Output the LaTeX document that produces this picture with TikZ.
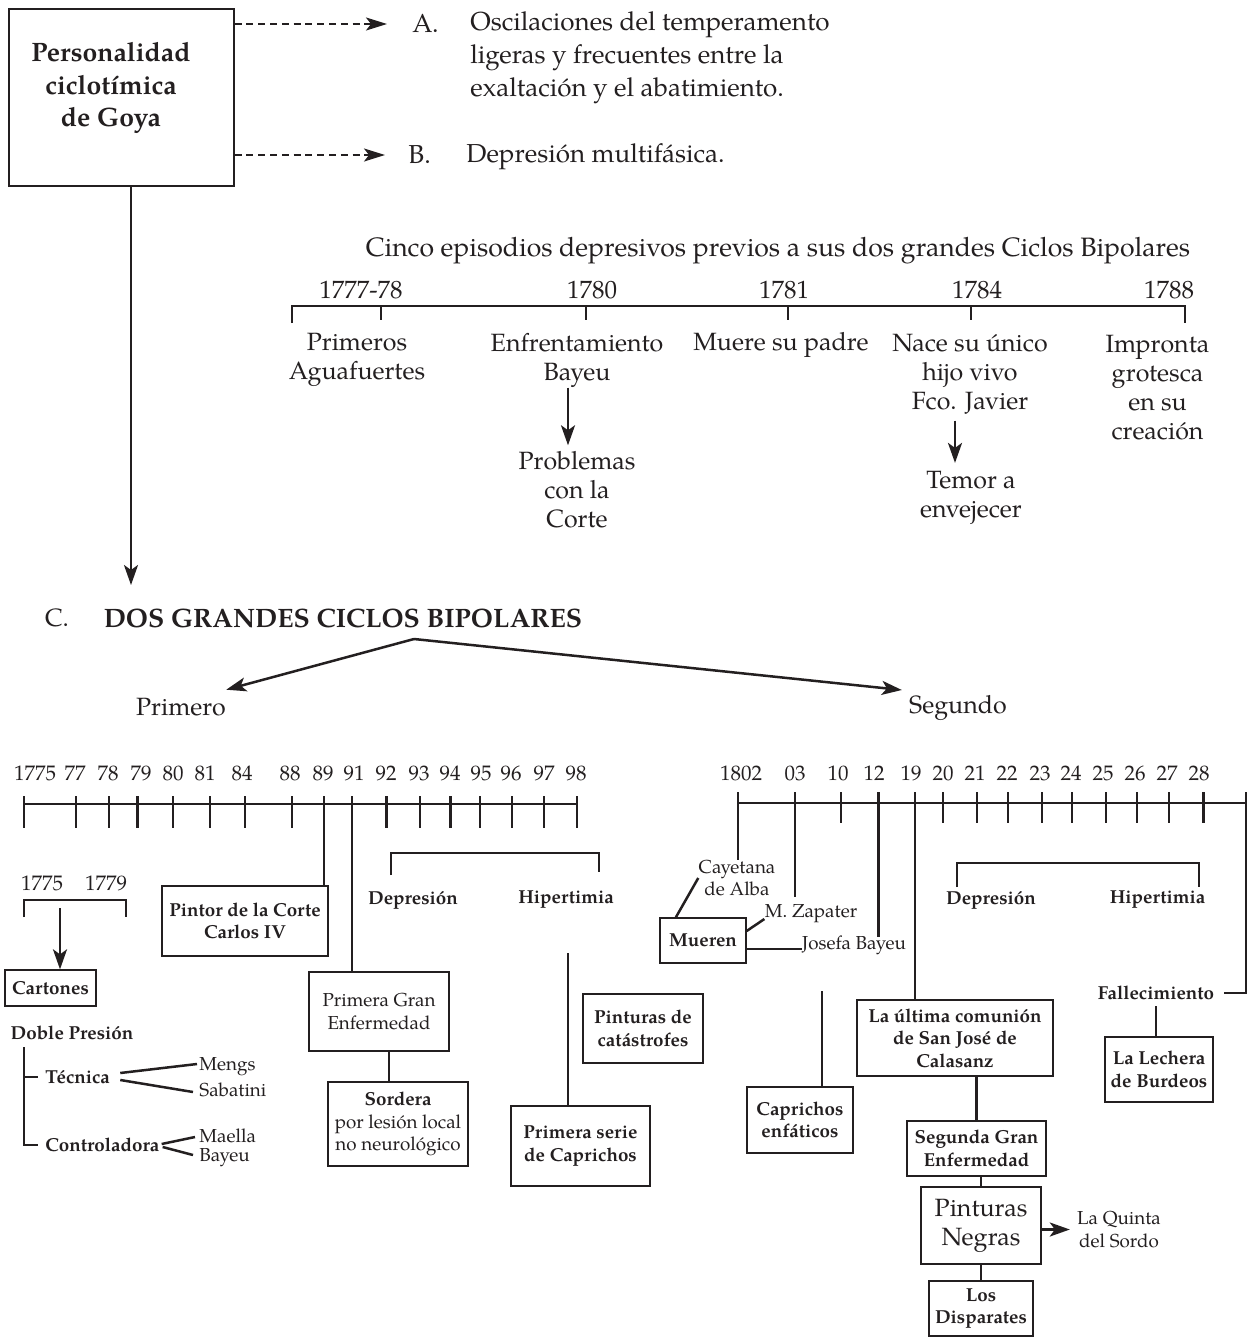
\documentclass[tikz,border=0pt]{standalone}
\usepackage{fontspec}
\setmainfont{TeX Gyre Pagella}
\usetikzlibrary{arrows.meta}
\definecolor{ink}{HTML}{231F20}
\newcommand\FBig{\fontsize{12.5}{14.5}\selectfont}
\newcommand\FSm{\fontsize{9.4}{11.25}\selectfont}
\newcommand\FYr{\fontsize{10.5}{12}\selectfont}
\newcommand\FHd{\fontsize{13.3}{16.25}\selectfont\bfseries}
\begin{document}
\begin{tikzpicture}[x=0.5pt,y=-0.5pt,
  lab/.style={text=ink, inner sep=0pt, align=center, font=\FBig},
  slab/.style={lab, font=\FSm},
  sbold/.style={lab, font=\FSm\bfseries},
  yr/.style={lab, font=\FYr},
  bx/.style={draw=ink, line width=0.65pt, inner sep=0pt, align=center, text=ink},
  sbx/.style={bx, font=\FSm\bfseries},
  tline/.style={draw=ink, line width=1.35pt},
  con/.style={draw=ink, line width=1.25pt},
  arr/.style={con, -{Stealth[length=10pt,width=7pt,inset=2.5pt]}},
  darr/.style={draw=ink, line width=1pt, dash pattern=on 3.5pt off 2.4pt, -{Stealth[length=10.5pt,width=6.5pt,inset=2.5pt]}}]
\useasboundingbox (0,0) rectangle (1252,1339);
\fill[white] (0,0) rectangle (1252,1339);

% ---------- top box and A / B ----------
\node[bx, minimum width=112.5pt, minimum height=88.5pt] (pers) at (121.5,97.5) {};
\node[lab, font=\FHd] (perst) at (111,88) {Personalidad\\ciclotímica\\de Goya};
\coordinate (aend) at (387,24);
\coordinate (bend) at (385,155);
\draw[darr] (pers.east |- aend) -- (aend);
\draw[darr] (pers.east |- bend) -- (bend);
\node[lab, anchor=west, font=\fontsize{13}{16.5}\selectfont] (alab) at (412,23) {A.};
\node[lab, anchor=west, align=left, font=\fontsize{13}{16.5}\selectfont] (atext) at (470,58)
  {Oscilaciones del temperamento\\ligeras y frecuentes entre la\\exaltación y el abatimiento.};
\node[lab, anchor=west, font=\fontsize{13}{16.5}\selectfont] (blab) at (408,155) {B.};
\node[lab, anchor=west, font=\fontsize{13}{16.5}\selectfont] (btext) at (466,157) {Depresión multifásica.};
\coordinate (carr) at (131,585);
\draw[arr] (pers.south -| carr) -- (carr);

% ---------- first timeline ----------
\node[lab, font=\fontsize{13.3}{16}\selectfont] (ttitle) at (778,251) {Cinco episodios depresivos previos a sus dos grandes Ciclos Bipolares};
\draw[tline] (292,323) -- (292,306) -- (1185,306) -- (1185,323);
\foreach \x in {381,586,788,971} \draw[tline] (\x,306) -- (\x,320);
\node[lab] (y1) at (361,290) {1777-78};
\node[lab] (y2) at (592,290) {1780};
\node[lab] (y3) at (784,290) {1781};
\node[lab] (y4) at (977,290) {1784};
\node[lab] (y5) at (1169,290) {1788};
\node[lab] (prims) at (357,360) {Primeros\\Aguafuertes};
\node[lab] (enf) at (577,360) {Enfrentamiento\\Bayeu};
\node[lab] (prob) at (577,490) {Problemas\\con la\\Corte};
\draw[arr] ([xshift=-4.5pt]enf.south) -- ([xshift=-4.5pt,yshift=3pt]enf.south |- prob.north);
\node[lab] (muere) at (781,345) {Muere su padre};
\node[lab] (nace) at (970,374) {Nace su único\\hijo vivo\\Fco. Javier};
\node[lab] (temor) at (971,498) {Temor a\\envejecer};
\draw[arr] ([xshift=-7.5pt,yshift=-3pt]nace.south) -- ([xshift=-7.5pt,yshift=4pt]nace.south |- temor.north);
\node[lab] (impr) at (1157.5,388) {Impronta\\grotesca\\en su\\creación};

% ---------- C ----------
\node[lab] (clab) at (57,618) {C.};
\node[lab, font=\fontsize{13.3}{16}\selectfont\bfseries] (dos) at (343,618) {DOS GRANDES CICLOS BIPOLARES};
\coordinate (br) at (414,639);
\node[lab] (prim) at (181,707) {Primero};
\node[lab] (segu) at (958,708) {Segundo};
\draw[arr] (br) -- ([yshift=4pt]prim.north east);
\draw[arr] (br) -- ([xshift=-3.5pt,yshift=2.5pt]segu.north west);

% ---------- left timeline ----------
\draw[tline] (24,804) -- (577,804);
\foreach \x in {24,76,109,137.5,173,210,245,292,324,352,386.5,420,450.6,480,512,544,577}
  \draw[tline] (\x,796) -- (\x,828);
\foreach \x/\t in {35/1775,75/77,108/78,141/79,173/80,205/81,242/84,290/88,323/89,354/91,386/92,419/93,450/94,481/95,511/96,544/97,576/98}
  \node[yr] (la\t) at (\x,773) {\t};
\coordinate (t89) at (324,828);
\coordinate (t91) at (352,828);

\node[yr] (b1775) at (42,883) {1775};
\node[yr] (b1779) at (106,883) {1779};
\draw[con] (24,917) -- (24,900) -- (126,900) -- (126,917);
\node[sbx, minimum width=45.5pt, minimum height=18pt] (cart) at (50.5,988) {Cartones};
\coordinate (c60) at (60,908);
\draw[arr] (c60) -- (c60 |- cart.north);

\node[sbold] (dob) at (72,1033) {Doble Presión};
\node[sbold, anchor=west] (tec) at (45,1077) {Técnica};
\node[sbold, anchor=west] (ctrl) at (45,1145) {Controladora};
\coordinate (tv) at (24,1047);
\draw[con] (tv) |- ([xshift=-3.5pt]ctrl.west);
\draw[con] (tv |- tec.west) -- ([xshift=-3.5pt]tec.west);
\node[slab, anchor=west] (mengs) at (199,1067) {Mengs};
\node[slab, anchor=west] (sab) at (199,1090) {Sabatini};
\node[slab, anchor=west] (mae) at (199,1136) {Maella};
\node[slab, anchor=west] (bay) at (199,1158) {Bayeu};
\draw[con] ([xshift=5pt,yshift=2pt]tec.east) -- ([xshift=-1pt,yshift=1.5pt]mengs.west);
\draw[con] ([xshift=5pt,yshift=-1.5pt]tec.east) -- ([xshift=-3pt,yshift=-1pt]sab.west);
\draw[con] ([xshift=1pt,yshift=0.5pt]ctrl.east) -- ([xshift=-2pt,yshift=-0.5pt]mae.west);
\draw[con] ([xshift=1.5pt,yshift=-1pt]ctrl.east) -- ([xshift=-3pt,yshift=1.5pt]bay.west);

\node[sbx, minimum width=83pt, minimum height=35pt] (pintor) at (245,921) {Pintor de la Corte\\Carlos IV};
\draw[tline] (t89) -- (t89 |- pintor.north);
\node[bx, font=\FSm, minimum width=70pt, minimum height=39.5pt] (pge) at (379,1011.5) {Primera Gran\\Enfermedad};
\draw[tline] (t91) -- (t91 |- pge.north);
\node[bx, font=\FSm, minimum width=70pt, minimum height=42pt] (sord) at (398,1124) {\textbf{Sordera}\\por lesión local\\no neurológico};
\draw[con] ([xshift=5pt]pge.south) -- ([xshift=-4.5pt]sord.north);

\draw[con] (391,875) -- (391,853) -- (599,853) -- (599,872);
\node[sbold] (dep1) at (413,900) {Depresión};
\node[sbold] (hip1) at (566,900) {Hipertimia};
\coordinate (h1) at (568,953);
\node[sbx, minimum width=60pt, minimum height=34.5pt] (cat) at (643,1028.5) {Pinturas de\\catástrofes};
\node[sbx, minimum width=69.5pt, minimum height=40pt] (serie) at (580.5,1146) {Primera serie\\de Caprichos};
\draw[tline] (h1) -- (h1 |- serie.north);

% ---------- right timeline ----------
\draw[tline] (738,803) -- (1246,803);
\foreach \x in {738,795,841,878.5,915,943,977,1008,1042,1072,1106,1137,1169,1203.5}
  \draw[tline] (\x,792) -- (\x,823);
\foreach \x/\t in {741/1802,795/03,838/10,874/12,911/19,943/20,975/21,1007/22,1040/23,1071/24,1103/25,1135/26,1167/27,1199/28}
  \node[yr] (lb\t) at (\x,773) {\t};
\coordinate (t02) at (738,823);
\coordinate (t03) at (795,823);
\coordinate (e03) at (795,897);
\coordinate (t12) at (878.5,823);
\coordinate (e12) at (878.5,937);
\coordinate (t19) at (915,823);
\coordinate (tend) at (1246,792);

\node[slab] (cay) at (737,878) {Cayetana\\de Alba};
\draw[tline] (t02) -- (t02 |- cay.north);
\draw[tline] (t03) -- (e03);
\draw[tline] (t12) -- (e12);
\node[sbx, minimum width=43pt, minimum height=22.5pt] (mueren) at (703,940.5) {Mueren};
\node[slab] (zap) at (811,914) {M. Zapater};
\node[slab] (jos) at (854,945) {Josefa Bayeu};
\draw[con] (cay.west) -- ([xshift=8.25pt]mueren.north west);
\draw[con] ([yshift=4.75pt]mueren.east) -- ([yshift=-2.5pt]zap.west);
\draw[con] ([yshift=-4.25pt]mueren.east) -- ([yshift=-2pt]jos.west);

\draw[con] (957,887) -- (957,863) -- (1199,863) -- (1199,887);
\node[sbold] (dep2) at (991,900) {Depresión};
\node[sbold] (hip2) at (1157.5,900) {Hipertimia};

\node[sbold] (fal) at (1156,993) {Fallecimiento};
\draw[tline] (tend) |- ([xshift=4.5pt]fal.east);
\node[sbx, minimum width=54pt, minimum height=32.5pt] (lech) at (1159,1069.5) {La Lechera\\de Burdeos};
\draw[con] ([yshift=-3pt]fal.south) -- (fal.south |- lech.north);

\node[sbx, minimum width=98pt, minimum height=38pt] (comm) at (955,1038) {La última comunión\\de San José de\\Calasanz};
\draw[tline] (t19) -- (t19 |- comm.north);
\node[sbx, minimum width=69.5pt, minimum height=27.5pt] (seg2) at (976.5,1148.5) {Segunda Gran\\Enfermedad};
\draw[con] (seg2.north |- comm.south) -- (seg2.north);
\node[bx, font=\FBig, minimum width=60pt, minimum height=38.5pt] (pn) at (981,1225.5) {Pinturas\\Negras};
\draw[con] (pn.north |- seg2.south) -- (pn.north);
\node[slab] (quinta) at (1119,1229.5) {La Quinta\\del Sordo};
\draw[arr] (pn.east |- quinta.west) -- ([xshift=-3.5pt]quinta.west);
\node[sbx, minimum width=52pt, minimum height=27.5pt] (disp) at (981,1308.5) {Los\\Disparates};
\draw[con] (disp.north |- pn.south) -- (disp.north);

\coordinate (ce) at (822,991);
\node[sbx, minimum width=53pt, minimum height=33pt] (capr) at (800,1120) {Caprichos\\enfáticos};
\draw[tline] (ce) -- (ce |- capr.north);
\end{tikzpicture}
\end{document}
